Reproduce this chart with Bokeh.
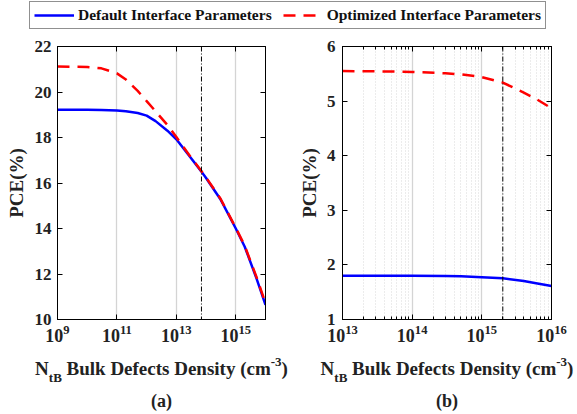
from bokeh.plotting import figure
from bokeh.layouts import column, row
from bokeh.models import (Range1d, FixedTicker, LogAxis, LinearAxis, Span, Label,
                          Legend, LegendItem)
from bokeh.embed import file_html
from bokeh.resources import INLINE

# ---------------- data ----------------
series_names = ["Default Interface Parameters", "Optimized Interface Parameters"]

a_density = [1e9, 1e10, 3e10, 1e11, 2e11, 5e11, 1e12, 2e12, 5e12, 1e13, 3e13,
             7e13, 1e14, 3e14, 1e15, 2e15, 5e15, 1e16]
a_default = [19.22, 19.22, 19.21, 19.19, 19.15, 19.08, 18.96, 18.72, 18.30, 17.92,
             17.12, 16.50, 16.22, 15.30, 14.00, 13.20, 11.80, 10.64]
a_optimized = [21.12, 21.10, 21.04, 20.82, 20.55, 20.05, 19.60, 19.15, 18.55, 18.02,
               17.15, 16.52, 16.24, 15.33, 14.03, 13.24, 11.86, 10.72]

b_density = [1e13, 3e13, 1e14, 3e14, 5e14, 1e15, 2e15, 4e15, 6e15, 1e16]
b_default = [1.800, 1.800, 1.800, 1.795, 1.790, 1.775, 1.755, 1.705, 1.665, 1.615]
b_optimized = [5.550, 5.545, 5.535, 5.510, 5.490, 5.440, 5.340, 5.155, 5.040, 4.870]

a_marker = 7e13
b_marker = 2e15

a_xrange = (1e9, 1e16)
b_xrange = (1e13, 1e16)
a_xticks = [1e9, 1e11, 1e13, 1e15]
a_yticks = [10, 12, 14, 16, 18, 20, 22]
b_xticks = [1e13, 1e14, 1e15, 1e16]
b_yticks = [1, 2, 3, 4, 5, 6]
b_minor = [k * 10.0 ** d for d in (13, 14, 15) for k in range(2, 10)]

ylabel = "PCE(%)"
xlabel_parts = ["N", "tB", "Bulk Defects Density (cm", "-3", ")"]
panel_tags = ["(a)", "(b)"]

FONT = "Liberation Serif"
TXT = "#222222"
BLUE = "#0000ff"
RED = "#ff0000"
DASH = "12 8"

W_A, W_B = 290, 287
BL_A, BR_A = 57, 25
BL_B, BR_B = 52, 26
LEG_H = 34
PANEL_H = 320
PANEL_BB = 35
STRIP_H = 414 - LEG_H - PANEL_H


def style_axis(ax, size, standoff):
    ax.major_label_text_font = FONT
    ax.major_label_text_font_style = "bold"
    ax.major_label_text_font_size = size
    ax.major_label_text_color = TXT
    ax.major_label_standoff = standoff
    ax.axis_line_color = "black"
    ax.major_tick_line_color = "black"
    ax.major_tick_in = 5
    ax.major_tick_out = 0
    ax.minor_tick_line_color = "black"
    ax.minor_tick_in = 3
    ax.minor_tick_out = 0


def mirror(ax):
    ax.major_label_text_font_size = "1px"
    ax.major_label_text_alpha = 0
    ax.major_label_standoff = 0
    ax.axis_line_color = "black"
    ax.major_tick_line_color = "black"
    ax.major_tick_in = 5
    ax.major_tick_out = 0
    ax.minor_tick_line_color = "black"
    ax.minor_tick_in = 3
    ax.minor_tick_out = 0


def make_panel(width, bl, br, xs, yd, yo, xrange_, xticks, minor, yticks, marker,
               lab_standoff, ytick_standoff, minor_grid):
    p = figure(width=width, height=PANEL_H, x_axis_type="log", title=None,
               x_range=Range1d(*xrange_),
               y_range=Range1d(yticks[0], yticks[-1]),
               toolbar_location=None, output_backend="svg",
               min_border_left=bl, min_border_right=br,
               min_border_top=12, min_border_bottom=PANEL_BB)
    p.outline_line_color = "black"
    p.outline_line_width = 1

    xticker = FixedTicker(ticks=xticks, minor_ticks=minor)
    yticker = FixedTicker(ticks=yticks)

    p.xaxis.ticker = xticker
    p.yaxis.ticker = yticker
    style_axis(p.xaxis[0], "18px", 5)
    style_axis(p.yaxis[0], "17px", ytick_standoff)
    p.yaxis.minor_tick_line_color = None
    p.yaxis.axis_label = ylabel
    p.yaxis.axis_label_text_font = FONT
    p.yaxis.axis_label_text_font_style = "bold"
    p.yaxis.axis_label_text_font_size = "19px"
    p.yaxis.axis_label_text_color = TXT
    p.yaxis.axis_label_standoff = lab_standoff

    top = LogAxis(ticker=xticker)
    mirror(top)
    p.add_layout(top, "above")
    right = LinearAxis(ticker=yticker)
    mirror(right)
    right.minor_tick_line_color = None
    p.add_layout(right, "right")

    p.xgrid.ticker = xticker
    p.xgrid.grid_line_color = "#d4d4d4"
    p.xgrid.grid_line_width = 1.3
    if minor_grid:
        p.xgrid.minor_grid_line_color = "#d8d8d8"
        p.xgrid.minor_grid_line_dash = "1 2"
        p.xgrid.minor_grid_line_width = 1
    p.ygrid.visible = False

    p.add_layout(Span(location=marker, dimension="height", line_color="black",
                      line_width=1, line_dash="5 2 1 2"))

    p.line(xs, yd, color=BLUE, line_width=2.5)
    p.line(xs, yo, color=RED, line_width=2.5, line_dash=DASH)
    return p


pa = make_panel(W_A, BL_A, BR_A, a_density, a_default, a_optimized, a_xrange,
                a_xticks, [], a_yticks, a_marker, 5, 6, False)
pb = make_panel(W_B, BL_B, BR_B, b_density, b_default, b_optimized, b_xrange,
                b_xticks, b_minor, b_yticks, b_marker, 4, 7, True)

# ---------------- legend strip ----------------
pl = figure(width=577, height=LEG_H, x_range=Range1d(0, 1), y_range=Range1d(0, 1),
            title=None, toolbar_location=None, output_backend="svg", min_border=0,
            x_axis_location=None, y_axis_location=None)
pl.outline_line_color = None
pl.grid.visible = False
# same series drawn far outside this strip's view; only their legend glyphs show
r1 = pl.line(a_density, a_default, color=BLUE, line_width=2.5)
r2 = pl.line(a_density, a_optimized, color=RED, line_width=2.5, line_dash=DASH)
legend = Legend(items=[LegendItem(label=series_names[0], renderers=[r1]),
                       LegendItem(label=series_names[1], renderers=[r2])],
                orientation="horizontal", location=(29, 5),
                glyph_width=40, glyph_height=18, label_standoff=4, spacing=11,
                padding=4, margin=0, label_height=16,
                border_line_color="#222222", border_line_width=1,
                background_fill_color="white", background_fill_alpha=1,
                label_text_font=FONT, label_text_font_style="bold",
                label_text_font_size="15.5px", label_text_color="#111111")
pl.add_layout(legend)

# ---------------- x-axis title strip (page-pixel coordinates) ----------------
top_y = LEG_H + PANEL_H
ps = figure(width=577, height=STRIP_H, x_range=Range1d(0, 577),
            y_range=Range1d(414, top_y), title=None,
            toolbar_location=None, output_backend="svg", min_border=0,
            x_axis_location=None, y_axis_location=None)
ps.outline_line_color = None
ps.grid.visible = False

main_px, small_px = 19, 13
space = 0.25 * main_px
widths = [0.722 * main_px, 1.0 * small_px + space, 10.748 * main_px,
          0.833 * small_px, 0.333 * main_px]
sizes = [main_px, small_px, main_px, small_px, main_px]
baselines = [368, 377, 368, 361, 368]
centers = [BL_A + (W_A - BL_A - BR_A) / 2, W_A + BL_B + (W_B - BL_B - BR_B) / 2]
for cx, tag in zip(centers, panel_tags):
    x = cx - sum(widths) / 2
    for text, w, sz, yb in zip(xlabel_parts, widths, sizes, baselines):
        ps.add_layout(Label(x=x, y=yb, text=text, text_font=FONT,
                            text_font_style="bold", text_font_size=f"{sz}px",
                            text_color=TXT, text_align="left",
                            text_baseline="alphabetic"))
        x += w
    ps.add_layout(Label(x=cx, y=400, text=tag, text_font=FONT,
                        text_font_style="bold", text_font_size="18px",
                        text_color=TXT, text_align="center",
                        text_baseline="alphabetic"))

layout = column(pl, row(pa, pb), ps)

open("out.html", "w").write(file_html(layout, INLINE))
